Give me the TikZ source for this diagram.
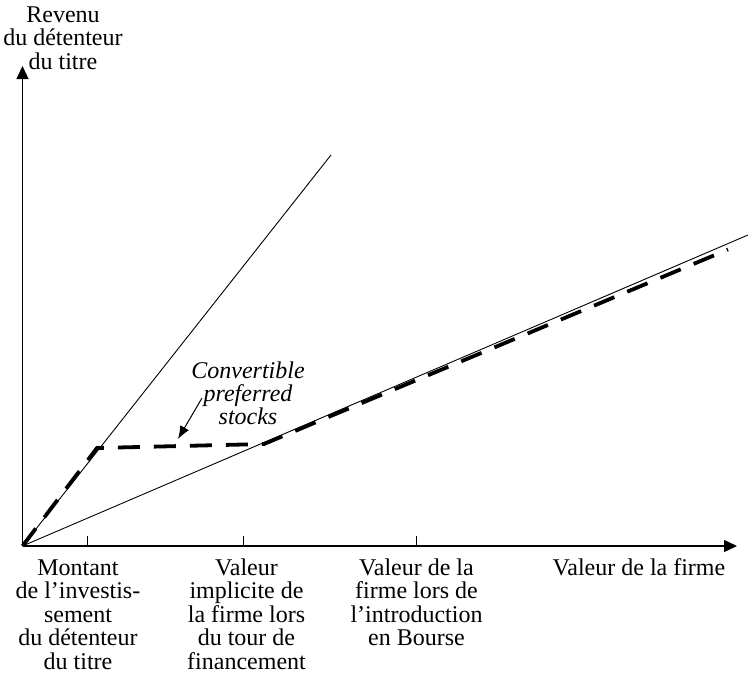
\documentclass[tikz,border=0pt]{standalone}
\usepackage{fontspec}
\setmainfont{Liberation Serif}
\usetikzlibrary{positioning,arrows.meta}

\begin{document}
\begin{tikzpicture}[x=1pt,y=1pt]
    \tikzstyle{every node}=[inner sep=0,align=center,font=\fontsize{24}{23.5}\selectfont]
    \tikzstyle{axis}=[line width=1.3pt,-{Triangle[length=13pt,width=12pt]}]
    \tikzstyle{ray}=[line width=0.9pt]
    \tikzstyle{payoff}=[line width=3.8pt,dash pattern=on 22pt off 14pt]
    \tikzstyle{tickline}=[line width=1pt]
    \tikzstyle{lbl}=[anchor=base]
    \tikzstyle{pointer}=[line width=1pt,-{Latex[length=13pt,width=10pt]}]

    \useasboundingbox (0,0) rectangle (748,-673);

    % axes
    \coordinate (o) at (22.5,-546);
    \coordinate (ytip) at (22.5,-66);
    \coordinate (xtip) at (737,-546);
    \draw[axis] (o) -- (ytip);
    \draw[axis] (o) -- (xtip);

    % ticks
    \foreach \name/\pos in {t1/87,t2/243,t3/416} {
        \coordinate (\name) at (\pos,-546);
        \draw[tickline] (\name) -- ++(0,10);
    }

    % straight payoff lines
    \coordinate (steepend) at (331,-155);
    \coordinate (flatend) at (748,-235);
    \draw[ray] (o) -- (steepend);
    \draw[ray] (o) -- (flatend);

    % convertible preferred stocks
    \coordinate (kink) at (97,-448);
    \coordinate (meet) at (264,-444);
    \coordinate (cpsend) at (728,-249.5);
    \draw[payoff] (o) -- (kink) -- (meet) -- (cpsend);

    % base anchor = baseline of the last line
    \node[lbl,font=\fontsize{24}{23}\selectfont\itshape] (cps) at (248,-424) {Convertible\\preferred\\stocks};
    \coordinate (cpsfoot) at (202,-398);
    \coordinate (cpshead) at (178,-439);
    \draw[pointer] (cpsfoot) -- (cpshead);

    % labels
    \node[lbl] (ylbl) at (63,-69) {Revenu\\du détenteur\\du titre};
    \node[lbl] (l1) at (78,-669) {Montant\\de l’investis-\\sement\\du détenteur\\du titre};
    \node[lbl] (l2) at (246.5,-669) {Valeur\\implicite de\\la firme lors\\du tour de\\financement};
    \node[lbl] (l3) at (416.5,-645.5) {Valeur de la\\firme lors de\\l’introduction\\en Bourse};
    \node[lbl] (xlbl) at (639,-575) {Valeur de la firme};
\end{tikzpicture}
\end{document}
